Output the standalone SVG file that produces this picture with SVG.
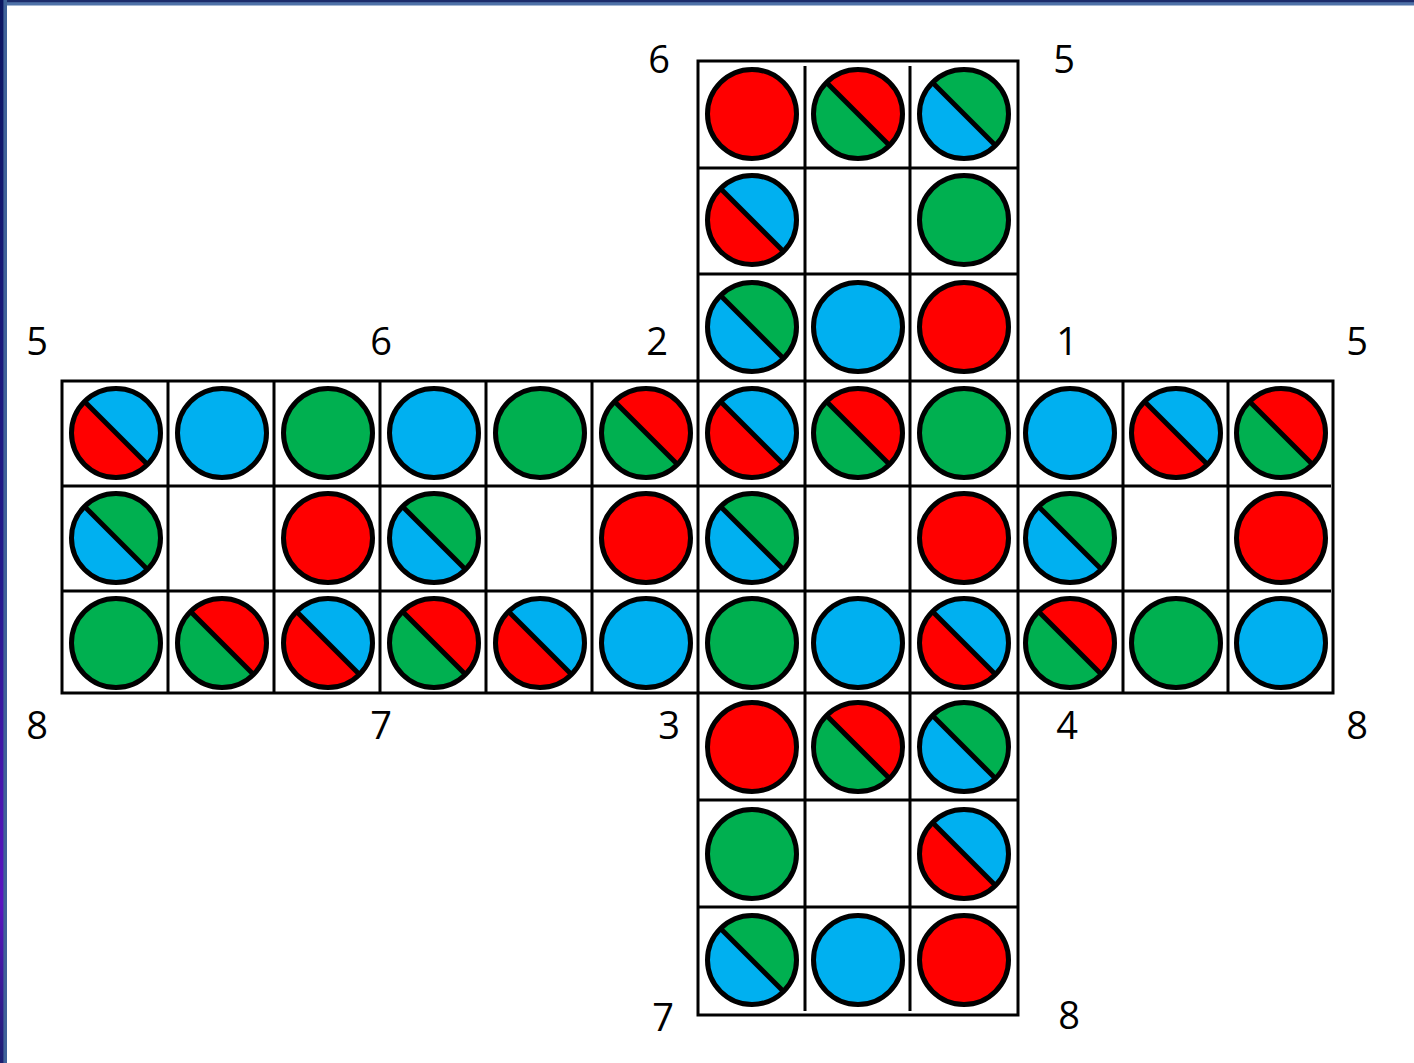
<svg xmlns="http://www.w3.org/2000/svg" xmlns:xlink="http://www.w3.org/1999/xlink" width="1414" height="1063" viewBox="0 0 1414 1063">
<style>
.r{fill:#FF0000}.g{fill:#00B050}.b{fill:#00B0F0}
.c{stroke:#000;stroke-width:5}
.ring{fill:none;stroke:#000;stroke-width:5}
.grid{fill:none;stroke:#000;stroke-width:3}
.lbl{font-family:"Open Sans","Liberation Sans",sans-serif;font-size:38px;fill:#000;text-anchor:middle}
</style>
<defs>
<linearGradient id="lb" x1="0" y1="0" x2="0" y2="1">
<stop offset="0" stop-color="#0b1660"/>
<stop offset="0.55" stop-color="#241a8c"/>
<stop offset="0.85" stop-color="#5a14c0"/>
<stop offset="1" stop-color="#1c2070"/>
</linearGradient>
<path id="ur" d="M-31.5,-31.5A44.5,44.5 0 0 1 31.5,31.5Z"/>
<path id="ll" d="M-31.5,-31.5A44.5,44.5 0 0 0 31.5,31.5Z"/>
<g id="sr" class="ring"><line x1="-31.5" y1="-31.5" x2="31.5" y2="31.5"/><circle r="44.5"/></g>
</defs>
<rect width="1414" height="1063" fill="#fff"/>
<rect x="0" y="0" width="1414" height="5.5" fill="#4f72a8"/>
<rect x="0" y="0" width="1414" height="2.2" fill="#1c2c6a"/>
<rect x="0" y="0" width="7" height="1063" fill="#3f6299"/>
<rect x="0" y="0" width="3.4" height="1063" fill="url(#lb)"/>

<g id="connectors">
<polygon class="grid" points="698,61 1018,61 1018,381 1333,381 1333,693 1018,693 1018,1015 698,1015 698,693 62,693 62,381 698,381"/>
<path class="grid" d="M805,66V1011M910,66V1011M698,168H1018M698,274H1018M698,381H1018
M168,381V693M274,381V693M380,381V693M486,381V693M592,381V693M698,381V693M1018,381V693M1123,381V693M1228,381V693
M62,486H1331M62,591H1331
M698,693H1018M698,800H1018M698,907H1018"/>
</g>

<g id="top">
<g id="t11" transform="translate(752,114)"><circle r="44.5" class="c r"/></g>
<g id="t12" transform="translate(858,114)"><use href="#ur" class="r"/><use href="#ll" class="g"/><use href="#sr"/></g>
<g id="t13" transform="translate(964,114)"><use href="#ur" class="g"/><use href="#ll" class="b"/><use href="#sr"/></g>
<g id="t21" transform="translate(752,220)"><use href="#ur" class="b"/><use href="#ll" class="r"/><use href="#sr"/></g>
<g id="t23" transform="translate(964,220)"><circle r="44.5" class="c g"/></g>
<g id="t31" transform="translate(752,327)"><use href="#ur" class="g"/><use href="#ll" class="b"/><use href="#sr"/></g>
<g id="t32" transform="translate(858,327)"><circle r="44.5" class="c b"/></g>
<g id="t33" transform="translate(964,327)"><circle r="44.5" class="c r"/></g>
</g>

<g id="strip1">
<g id="s1_1" transform="translate(116,433)"><use href="#ur" class="b"/><use href="#ll" class="r"/><use href="#sr"/></g>
<g id="s1_2" transform="translate(222,433)"><circle r="44.5" class="c b"/></g>
<g id="s1_3" transform="translate(328,433)"><circle r="44.5" class="c g"/></g>
<g id="s1_4" transform="translate(434,433)"><circle r="44.5" class="c b"/></g>
<g id="s1_5" transform="translate(540,433)"><circle r="44.5" class="c g"/></g>
<g id="s1_6" transform="translate(646,433)"><use href="#ur" class="r"/><use href="#ll" class="g"/><use href="#sr"/></g>
<g id="s1_7" transform="translate(752,433)"><use href="#ur" class="b"/><use href="#ll" class="r"/><use href="#sr"/></g>
<g id="s1_8" transform="translate(858,433)"><use href="#ur" class="r"/><use href="#ll" class="g"/><use href="#sr"/></g>
<g id="s1_9" transform="translate(964,433)"><circle r="44.5" class="c g"/></g>
<g id="s1_10" transform="translate(1070,433)"><circle r="44.5" class="c b"/></g>
<g id="s1_11" transform="translate(1176,433)"><use href="#ur" class="b"/><use href="#ll" class="r"/><use href="#sr"/></g>
<g id="s1_12" transform="translate(1281,433)"><use href="#ur" class="r"/><use href="#ll" class="g"/><use href="#sr"/></g>
</g>

<g id="strip2">
<g id="s2_1" transform="translate(116,538)"><use href="#ur" class="g"/><use href="#ll" class="b"/><use href="#sr"/></g>
<g id="s2_3" transform="translate(328,538)"><circle r="44.5" class="c r"/></g>
<g id="s2_4" transform="translate(434,538)"><use href="#ur" class="g"/><use href="#ll" class="b"/><use href="#sr"/></g>
<g id="s2_6" transform="translate(646,538)"><circle r="44.5" class="c r"/></g>
<g id="s2_7" transform="translate(752,538)"><use href="#ur" class="g"/><use href="#ll" class="b"/><use href="#sr"/></g>
<g id="s2_9" transform="translate(964,538)"><circle r="44.5" class="c r"/></g>
<g id="s2_10" transform="translate(1070,538)"><use href="#ur" class="g"/><use href="#ll" class="b"/><use href="#sr"/></g>
<g id="s2_12" transform="translate(1281,538)"><circle r="44.5" class="c r"/></g>
</g>

<g id="strip3">
<g id="s3_1" transform="translate(116,643)"><circle r="44.5" class="c g"/></g>
<g id="s3_2" transform="translate(222,643)"><use href="#ur" class="r"/><use href="#ll" class="g"/><use href="#sr"/></g>
<g id="s3_3" transform="translate(328,643)"><use href="#ur" class="b"/><use href="#ll" class="r"/><use href="#sr"/></g>
<g id="s3_4" transform="translate(434,643)"><use href="#ur" class="r"/><use href="#ll" class="g"/><use href="#sr"/></g>
<g id="s3_5" transform="translate(540,643)"><use href="#ur" class="b"/><use href="#ll" class="r"/><use href="#sr"/></g>
<g id="s3_6" transform="translate(646,643)"><circle r="44.5" class="c b"/></g>
<g id="s3_7" transform="translate(752,643)"><circle r="44.5" class="c g"/></g>
<g id="s3_8" transform="translate(858,643)"><circle r="44.5" class="c b"/></g>
<g id="s3_9" transform="translate(964,643)"><use href="#ur" class="b"/><use href="#ll" class="r"/><use href="#sr"/></g>
<g id="s3_10" transform="translate(1070,643)"><use href="#ur" class="r"/><use href="#ll" class="g"/><use href="#sr"/></g>
<g id="s3_11" transform="translate(1176,643)"><circle r="44.5" class="c g"/></g>
<g id="s3_12" transform="translate(1281,643)"><circle r="44.5" class="c b"/></g>
</g>

<g id="bottom">
<g id="b11" transform="translate(752,747)"><circle r="44.5" class="c r"/></g>
<g id="b12" transform="translate(858,747)"><use href="#ur" class="r"/><use href="#ll" class="g"/><use href="#sr"/></g>
<g id="b13" transform="translate(964,747)"><use href="#ur" class="g"/><use href="#ll" class="b"/><use href="#sr"/></g>
<g id="b21" transform="translate(752,854)"><circle r="44.5" class="c g"/></g>
<g id="b23" transform="translate(964,854)"><use href="#ur" class="b"/><use href="#ll" class="r"/><use href="#sr"/></g>
<g id="b31" transform="translate(752,960)"><use href="#ur" class="g"/><use href="#ll" class="b"/><use href="#sr"/></g>
<g id="b32" transform="translate(858,960)"><circle r="44.5" class="c b"/></g>
<g id="b33" transform="translate(964,960)"><circle r="44.5" class="c r"/></g>
</g>

<g id="labels" class="lbl">
<text x="659" y="73">6</text>
<text x="1064" y="73">5</text>
<text x="37" y="355">5</text>
<text x="381" y="355">6</text>
<text x="657" y="355">2</text>
<text x="1067" y="355">1</text>
<text x="1357" y="355">5</text>
<text x="37" y="739">8</text>
<text x="381" y="739">7</text>
<text x="669" y="739">3</text>
<text x="1067" y="739">4</text>
<text x="1357" y="739">8</text>
<text x="663" y="1031">7</text>
<text x="1069" y="1029">8</text>
</g>
</svg>
